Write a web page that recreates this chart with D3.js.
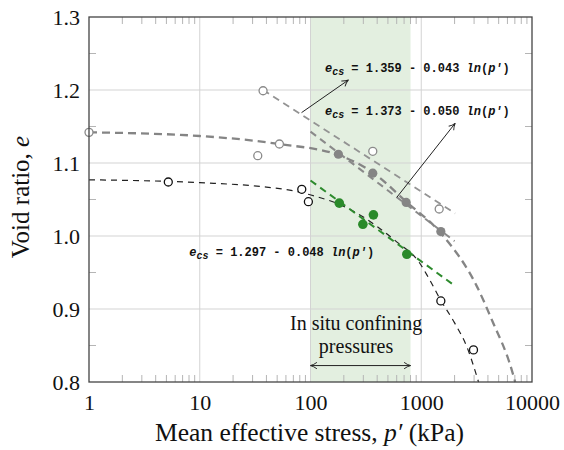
<!DOCTYPE html>
<html>
<head>
<meta charset="utf-8">
<script src="https://cdn.jsdelivr.net/npm/d3@7"></script>
<style>
  body { margin: 0; background: #fff; }
  text { font-family: "Liberation Serif", "DejaVu Serif", serif; fill: #111; }
</style>
</head>
<body>
<svg></svg>
<script>
const width = 564;
const height = 450;
const margin = { top: 17, right: 32, bottom: 68, left: 89 };

// axis ticks
const xTicks = [1, 10, 100, 1000, 10000];
const yTicks = [0.8, 0.9, 1.0, 1.1, 1.2, 1.3];

// in situ confining pressure range (kPa)
const insitu = [100, 800];

// test data [p', e]
const openGray = [[1, 1.142], [33.4, 1.110], [37.3, 1.199], [52.4, 1.126], [365, 1.116], [1452, 1.037]];
const filledGray = [[178.6, 1.112], [365, 1.086], [731, 1.046], [1503, 1.006]];
const openBlack = [[5.2, 1.074], [83.4, 1.064], [95.7, 1.047], [1503, 0.911], [2963, 0.844]];
const greenPts = [[182, 1.045], [297, 1.016], [370, 1.029], [741, 0.975]];

// compression curves
const blackCurve = [[1, 1.077], [10, 1.073], [40, 1.067], [75, 1.061], [113, 1.054], [185, 1.043],
  [300, 1.026], [400, 1.013], [600, 0.992], [957, 0.964], [1161, 0.943], [1500, 0.912],
  [2000, 0.881], [2584, 0.848], [3290, 0.8]];
const grayCurve = [[1, 1.142], [10, 1.137], [52, 1.126], [178, 1.111], [365, 1.087], [731, 1.047],
  [1500, 1.004], [3179, 0.931], [4345, 0.885], [6580, 0.816], [7050, 0.8]];

// critical state lines (end points)
const csl1 = [[37.3, 1.2], [2024, 1.031]];
const csl2 = [[100, 1.143], [2000, 0.993]];
const csl3 = [[100, 1.076], [2000, 0.932]];

const svg = d3.select("svg")
    .attr("width", width)
    .attr("height", height)

const xScale = d3.scaleLog()
    .domain([1, 10000])
    .range([margin.left, width - margin.right])

const yScale = d3.scaleLinear()
    .domain([0.8, 1.3])
    .range([height - margin.bottom, margin.top])

const x0 = margin.left, x1 = width - margin.right;
const y0 = height - margin.bottom, y1 = margin.top;

const defs = svg.append("defs");
defs.append("marker")
    .attr("id", "head")
    .attr("viewBox", "0 0 10 10")
    .attr("refX", 9).attr("refY", 5)
    .attr("markerWidth", 8).attr("markerHeight", 8)
    .attr("markerUnits", "userSpaceOnUse")
    .attr("orient", "auto-start-reverse")
    .append("path")
    .attr("d", "M1,1 Q5,4 9,5 Q5,6 1,9")
    .attr("fill", "none")
    .attr("stroke", "#222")
    .attr("stroke-width", 1.2);

// shaded band
svg.append("rect")
    .attr("x", xScale(insitu[0]))
    .attr("y", y1)
    .attr("width", xScale(insitu[1]) - xScale(insitu[0]))
    .attr("height", y0 - y1)
    .attr("fill", "#e3efe0")

// grid
svg.append("g")
    .selectAll("line")
    .data(xTicks.slice(1, -1))
    .enter().append("line")
    .attr("x1", d => xScale(d)).attr("x2", d => xScale(d))
    .attr("y1", y1).attr("y2", y0)
    .attr("stroke", "#d3d3d3").attr("stroke-width", 1)

svg.append("g")
    .selectAll("line")
    .data(yTicks.slice(1, -1))
    .enter().append("line")
    .attr("x1", x0).attr("x2", x1)
    .attr("y1", d => yScale(d)).attr("y2", d => yScale(d))
    .attr("stroke", "#d3d3d3").attr("stroke-width", 1)

// minor ticks (inward, all four sides)
const minorX = xScale.ticks().filter(d => !xTicks.includes(d));
const minorY = yScale.ticks(10).filter(d => !yTicks.some(t => Math.abs(t - d) < 1e-9));
const tickLen = 7;
const mt = svg.append("g").attr("stroke", "#b5b5b5").attr("stroke-width", 1);
minorX.forEach(d => {
    mt.append("line").attr("x1", xScale(d)).attr("x2", xScale(d)).attr("y1", y0).attr("y2", y0 - tickLen);
    mt.append("line").attr("x1", xScale(d)).attr("x2", xScale(d)).attr("y1", y1).attr("y2", y1 + tickLen);
});
minorY.forEach(d => {
    mt.append("line").attr("x1", x0).attr("x2", x0 + tickLen).attr("y1", yScale(d)).attr("y2", yScale(d));
    mt.append("line").attr("x1", x1).attr("x2", x1 - tickLen).attr("y1", yScale(d)).attr("y2", yScale(d));
});

// axes
const xAxis = d3.axisBottom(xScale)
    .tickValues(xTicks)
    .tickFormat(d3.format("d"))
    .tickSize(0)
    .tickPadding(12)

const yAxis = d3.axisLeft(yScale)
    .tickValues(yTicks)
    .tickFormat(d3.format(".1f"))
    .tickSize(0)
    .tickPadding(9)

svg.append("g")
    .attr("transform", "translate(0, " + y0 + ")")
    .call(xAxis)
    .call(g => g.select(".domain").remove())
    .selectAll("text")
    .style("font-size", "22px")
    .style("font-family", "Liberation Serif")
    .attr("fill", "#111")

svg.append("g")
    .attr("transform", "translate(" + x0 + ", 0)")
    .call(yAxis)
    .call(g => g.select(".domain").remove())
    .selectAll("text")
    .style("font-size", "22px")
    .style("font-family", "Liberation Serif")
    .attr("fill", "#111")

// lines
const line = d3.line()
    .x(d => xScale(d[0]))
    .y(d => yScale(d[1]))

const curved = d3.line()
    .x(d => xScale(d[0]))
    .y(d => yScale(d[1]))
    .curve(d3.curveMonotoneX)

svg.append("path").datum(csl1).attr("d", line)
    .attr("fill", "none").attr("stroke", "#939393").attr("stroke-width", 1.8)
    .attr("stroke-dasharray", "7,5")

svg.append("path").datum(csl2).attr("d", line)
    .attr("fill", "none").attr("stroke", "#8a8a8a").attr("stroke-width", 2)
    .attr("stroke-dasharray", "7,5")

svg.append("path").datum(grayCurve).attr("d", curved)
    .attr("fill", "none").attr("stroke", "#858585").attr("stroke-width", 2.3)
    .attr("stroke-dasharray", "8,5")

svg.append("path").datum(blackCurve).attr("d", curved)
    .attr("fill", "none").attr("stroke", "#222").attr("stroke-width", 1.2)
    .attr("stroke-dasharray", "6,5")

svg.append("path").datum(csl3).attr("d", line)
    .attr("fill", "none").attr("stroke", "#2e8b2e").attr("stroke-width", 2)
    .attr("stroke-dasharray", "7,5")

// points
function dots(data, r, fill, stroke, sw) {
    svg.append("g")
        .selectAll("circle")
        .data(data)
        .enter().append("circle")
        .attr("cx", d => xScale(d[0]))
        .attr("cy", d => yScale(d[1]))
        .attr("r", r)
        .attr("fill", fill)
        .attr("stroke", stroke)
        .attr("stroke-width", sw)
}
dots(openGray, 4, "#fff", "#8a8a8a", 1.3);
dots(openBlack, 4, "#fff", "#111", 1.3);
dots(filledGray, 4.6, "#858585", "none", 0);
dots(greenPts, 4.8, "#2a8a2a", "none", 0);

// annotations
function arrow(a, b) {
    svg.append("line")
        .attr("x1", xScale(a[0])).attr("y1", yScale(a[1]))
        .attr("x2", xScale(b[0])).attr("y2", yScale(b[1]))
        .attr("stroke", "#222").attr("stroke-width", 1)
        .attr("marker-end", "url(#head)")
}
arrow([83, 1.169], [220, 1.2137]);
arrow([602, 1.053], [2024, 1.1544]);

svg.append("line")
    .attr("x1", xScale(insitu[0])).attr("x2", xScale(insitu[1]))
    .attr("y1", yScale(0.8225)).attr("y2", yScale(0.8225))
    .attr("stroke", "#222").attr("stroke-width", 1)
    .attr("marker-start", "url(#head)")
    .attr("marker-end", "url(#head)")

function equation(pos, a, b) {
    const t = svg.append("text")
        .attr("x", xScale(pos[0]))
        .attr("y", yScale(pos[1]))
        .style("font-family", "'Liberation Mono', monospace")
        .style("font-size", "12px")
        .style("font-weight", "bold")
        .attr("fill", "#3a3a3a")
    t.append("tspan").style("font-style", "italic").text("e")
    t.append("tspan").attr("dy", 3).style("font-style", "italic").style("font-size", "10px").text("cs")
    t.append("tspan").attr("dy", -3).text(" = " + a + " - " + b + " ")
    t.append("tspan").style("font-style", "italic").text("ln")
    t.append("tspan").text("(")
    t.append("tspan").style("font-style", "italic").text("p′")
    t.append("tspan").text(")")
}
equation([135, 1.2247], "1.359", "0.043");
equation([135, 1.1658], "1.373", "0.050");
equation([8.05, 0.9726], "1.297", "0.048");

svg.append("text")
    .attr("x", xScale(258)).attr("y", 330)
    .attr("text-anchor", "middle")
    .style("font-size", "20px")
    .text("In situ confining")

svg.append("text")
    .attr("x", xScale(258)).attr("y", 353)
    .attr("text-anchor", "middle")
    .style("font-size", "20px")
    .text("pressures")

// frame
svg.append("rect")
    .attr("x", x0).attr("y", y1)
    .attr("width", x1 - x0).attr("height", y0 - y1)
    .attr("fill", "none").attr("stroke", "#444").attr("stroke-width", 1.3)

// axis titles
const xt = svg.append("text")
    .attr("x", (x0 + x1) / 2 - 1).attr("y", 441)
    .attr("text-anchor", "middle")
    .style("font-size", "25.5px")
xt.append("tspan").text("Mean effective stress, ")
xt.append("tspan").style("font-style", "italic").text("p′")
xt.append("tspan").text(" (kPa)")

const yt = svg.append("text")
    .attr("transform", "translate(29, 197) rotate(-90)")
    .attr("text-anchor", "middle")
    .style("font-size", "25px")
yt.append("tspan").text("Void ratio, ")
yt.append("tspan").style("font-style", "italic").text("e")
</script>
</body>
</html>
